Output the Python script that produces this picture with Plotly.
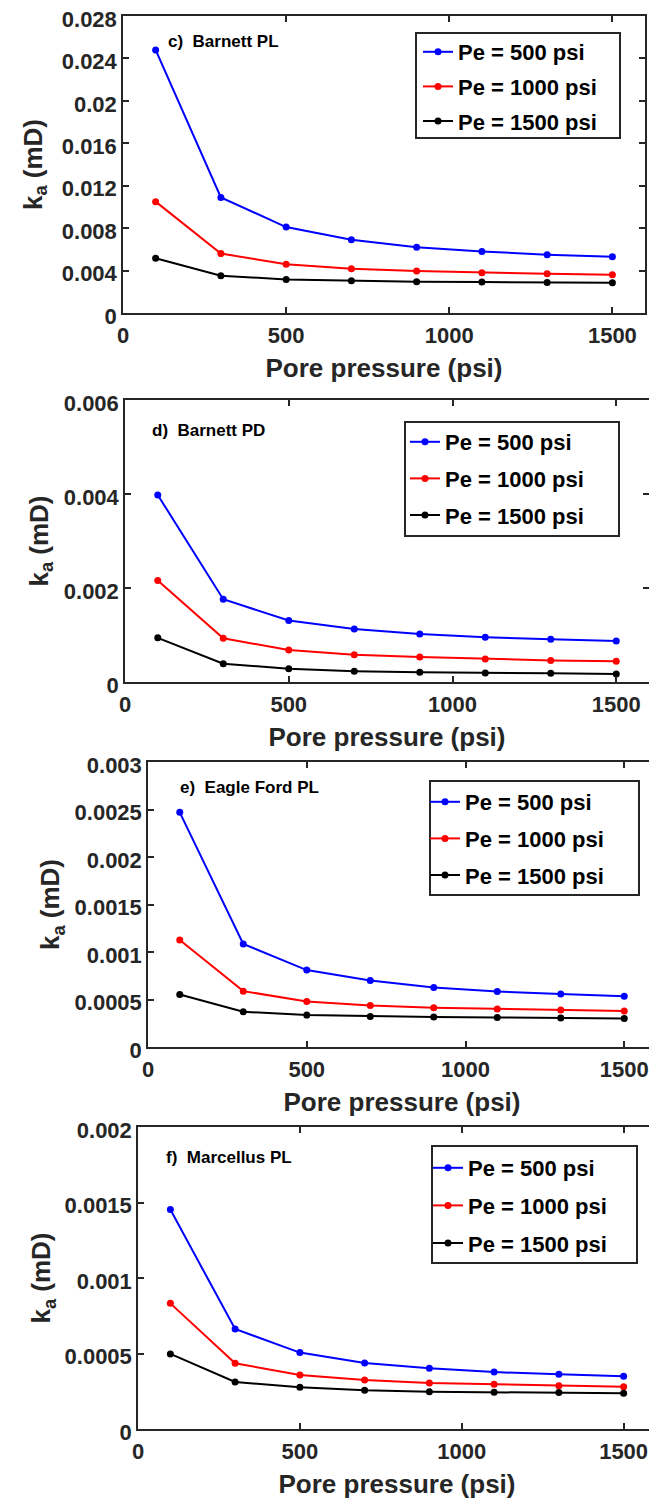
import plotly.graph_objects as go

pore_pressure = [100, 300, 500, 700, 900, 1100, 1300, 1500]
series_names = ["Pe = 500 psi", "Pe = 1000 psi", "Pe = 1500 psi"]
series_colors = ["#0000FF", "#FF0000", "#000000"]

barnett_pl_500 = [0.0248, 0.0109, 0.0081, 0.0069, 0.0062, 0.0058, 0.0055, 0.0053]
barnett_pl_1000 = [0.0105, 0.0056, 0.0046, 0.00417, 0.00395, 0.00379, 0.0037, 0.0036]
barnett_pl_1500 = [0.00517, 0.00351, 0.00317, 0.00304, 0.00295, 0.00292, 0.00288, 0.00285]

barnett_pd_500 = [0.00398, 0.00176, 0.00131, 0.00113, 0.00102, 0.00095, 0.00091, 0.00087]
barnett_pd_1000 = [0.00216, 0.00093, 0.00068, 0.00058, 0.00053, 0.00049, 0.00046, 0.00044]
barnett_pd_1500 = [0.00094, 0.00039, 0.00028, 0.00023, 0.00021, 0.00019, 0.000185, 0.00017]

eagle_ford_pl_500 = [0.00247, 0.001085, 0.00081, 0.0007, 0.000627, 0.000585, 0.000557, 0.000535]
eagle_ford_pl_1000 = [0.001127, 0.000588, 0.00048, 0.000437, 0.000413, 0.0004, 0.000389, 0.000378]
eagle_ford_pl_1500 = [0.000553, 0.000371, 0.000336, 0.000322, 0.000315, 0.000311, 0.000305, 0.000301]

marcellus_pl_500 = [0.001453, 0.000662, 0.000506, 0.000437, 0.000402, 0.000377, 0.000362, 0.000349]
marcellus_pl_1000 = [0.000832, 0.000435, 0.000358, 0.000324, 0.000305, 0.000296, 0.000287, 0.00028]
marcellus_pl_1500 = [0.000497, 0.000311, 0.000276, 0.000256, 0.000247, 0.000243, 0.000241, 0.000236]

panel_labels = ["c)  Barnett PL", "d)  Barnett PD", "e)  Eagle Ford PL", "f)  Marcellus PL"]

x_tickvals = [0, 500, 1000, 1500]
x_ticktext = ["0", "500", "1000", "1500"]

y1_tickvals = [0, 0.004, 0.008, 0.012, 0.016, 0.02, 0.024, 0.028]
y1_ticktext = ["0", "0.004", "0.008", "0.012", "0.016", "0.02", "0.024", "0.028"]
y2_tickvals = [0, 0.002, 0.004, 0.006]
y2_ticktext = ["0", "0.002", "0.004", "0.006"]
y3_tickvals = [0, 0.0005, 0.001, 0.0015, 0.002, 0.0025, 0.003]
y3_ticktext = ["0", "0.0005", "0.001", "0.0015", "0.002", "0.0025", "0.003"]
y4_tickvals = [0, 0.0005, 0.001, 0.0015, 0.002]
y4_ticktext = ["0", "0.0005", "0.001", "0.0015", "0.002"]

panels = [
    (barnett_pl_500, barnett_pl_1000, barnett_pl_1500),
    (barnett_pd_500, barnett_pd_1000, barnett_pd_1500),
    (eagle_ford_pl_500, eagle_ford_pl_1000, eagle_ford_pl_1500),
    (marcellus_pl_500, marcellus_pl_1000, marcellus_pl_1500),
]
y_ticks = [(y1_tickvals, y1_ticktext), (y2_tickvals, y2_ticktext),
           (y3_tickvals, y3_ticktext), (y4_tickvals, y4_ticktext)]
y_max = [0.028, 0.006, 0.003, 0.002]

# page body has an 8px margin: work in reference pixels, convert to figure pixels
OFF = 8
W, H = 657 - OFF, 1501 - OFF


def fx(px):
    return (px - OFF) / W


def fy(py):
    return 1 - (py - OFF) / H


# plot areas in reference pixels: (left, right, top, bottom)
boxes = [(123, 645, 16, 313), (125, 649, 400, 682), (148, 656, 762, 1047), (138, 656, 1127, 1429)]
# legend frames (left, right, top, bottom)
legend_boxes = [(416, 620, 33, 138), (405, 619, 422, 536), (430, 639, 781, 895), (432, 637, 1146, 1263)]
legend_text_x = [459, 446, 466, 469]
legend_first_row = [53, 443, 803, 1169]
legend_gap = [3, 5, 5, 6]
label_pos = [(166, 42), (150, 430), (178, 787), (164, 1157)]
ytitle_standoff = [12, 8, 7, 6]

FONT = "Liberation Sans, Arial, sans-serif"
AX = "#262626"

fig = go.Figure()
layout = dict(width=W, height=H, margin=dict(l=0, r=0, t=0, b=0),
              paper_bgcolor="white", plot_bgcolor="white",
              font=dict(family=FONT, color="#262626"), annotations=[], shapes=[])

for i, (data, (tv, tt), ymax, box) in enumerate(zip(panels, y_ticks, y_max, boxes)):
    n = "" if i == 0 else str(i + 1)
    leg = "legend" + n
    for vals, name, col in zip(data, series_names, series_colors):
        fig.add_trace(go.Scatter(
            x=pore_pressure, y=vals, name=name, mode="lines+markers",
            line=dict(color=col, width=2), marker=dict(color=col, size=7),
            xaxis="x" + n, yaxis="y" + n, legend=leg, legendgroup=name + n))
    l, r, t, b = box
    axcommon = dict(showgrid=False, zeroline=False, showline=True, linecolor=AX, linewidth=1.5,
                    mirror="ticks", ticks="inside", ticklen=6, tickwidth=1.5, tickcolor=AX,
                    automargin=False, ticklabeloverflow="allow",
                    tickfont=dict(family=FONT, size=22, color="#262626", weight="bold"))
    layout["xaxis" + n] = dict(axcommon, domain=[fx(l), fx(r)], anchor="y" + n, range=[0, 1600],
                               tickvals=x_tickvals, ticktext=x_ticktext, ticklabelstandoff=2,
                               title=dict(text="Pore pressure (psi)", standoff=12,
                                          font=dict(family=FONT, size=26, color="#262626", weight="bold")))
    layout["yaxis" + n] = dict(axcommon, domain=[fy(b), fy(t)], anchor="x" + n, range=[0, ymax * 1.0000001],
                               tickvals=tv, ticktext=tt, ticklabelshift=3,
                               title=dict(text="k<sub>a</sub> (mD)", standoff=ytitle_standoff[i],
                                          font=dict(family=FONT, size=26, color="#262626", weight="bold")))
    bl, br, bt, bb = legend_boxes[i]
    layout["shapes"].append(dict(type="rect", xref="paper", yref="paper",
                                 x0=fx(bl), x1=fx(br), y0=fy(bb), y1=fy(bt),
                                 line=dict(color="#262626", width=2), fillcolor="white", layer="above"))
    layout[leg] = dict(x=fx(legend_text_x[i] - 41), y=fy(legend_first_row[i] - 22),
                       xanchor="left", yanchor="top",
                       borderwidth=0, bgcolor="rgba(0,0,0,0)",
                       font=dict(family=FONT, size=22, color="black", weight="bold"),
                       traceorder="grouped", tracegroupgap=legend_gap[i], itemwidth=30)
    ax, ay = label_pos[i]
    layout["annotations"].append(dict(text=panel_labels[i], xref="paper", yref="paper",
                                      x=fx(ax), y=fy(ay), xanchor="left", yanchor="middle",
                                      showarrow=False,
                                      font=dict(family=FONT, size=17, color="black", weight="bold")))

fig.update_layout(**layout)
fig.write_html("out.html")
